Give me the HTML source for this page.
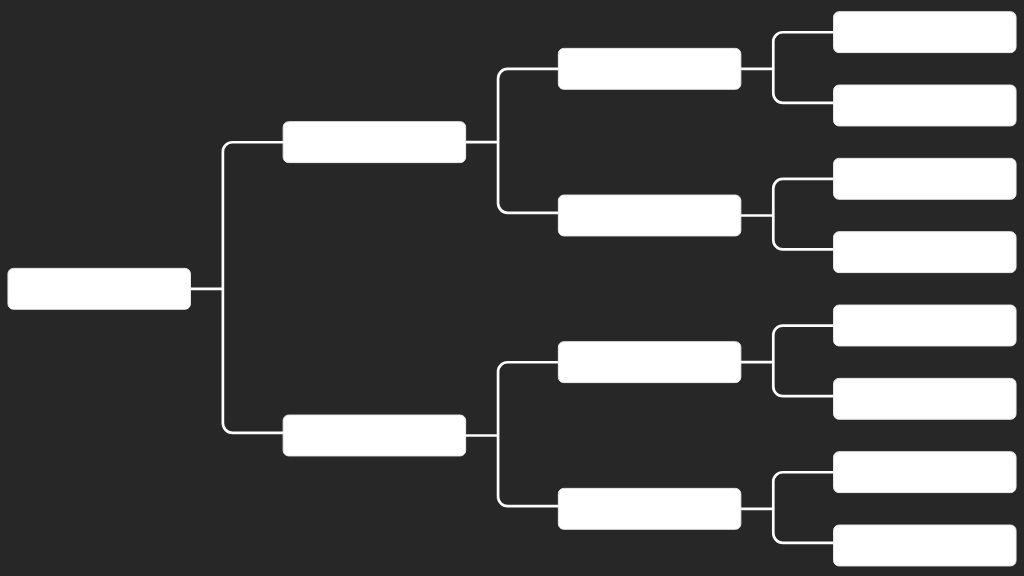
<!DOCTYPE html>
<html lang="en">
<head>
<meta charset="utf-8">
<title>Bracket</title>
<style>
html,body{margin:0;padding:0;background:#272727;width:1024px;height:576px;overflow:hidden}
svg{display:block}
.ln path{fill:none;stroke:#fdfdfd;stroke-width:2.7;stroke-linecap:butt;stroke-linejoin:round}
.bx rect{fill:#ffffff;stroke:#ececec;stroke-width:1}
</style>
</head>
<body>
<svg xmlns="http://www.w3.org/2000/svg" width="1024" height="576" viewBox="0 0 1024 576">
<rect width="1024" height="576" fill="#272727"/>
<g class="ln">
<path d="M188.93 288.82H222.88"/>
<path d="M284.67 142.25H232.38A9.5 9.5 0 0 0 222.88 151.75V423.28A9.5 9.5 0 0 0 232.38 432.78H284.67"/>
<path d="M464.13 142.15H498.08"/>
<path d="M559.87 68.92H507.58A9.5 9.5 0 0 0 498.08 78.42V203.28A9.5 9.5 0 0 0 507.58 212.78H559.87"/>
<path d="M464.13 435.48H498.08"/>
<path d="M559.87 362.25H507.58A9.5 9.5 0 0 0 498.08 371.75V496.62A9.5 9.5 0 0 0 507.58 506.12H559.87"/>
<path d="M739.33 68.82H773.28"/>
<path d="M835.07 32.25H782.78A9.5 9.5 0 0 0 773.28 41.75V93.28A9.5 9.5 0 0 0 782.78 102.78H835.07"/>
<path d="M739.33 215.48H773.28"/>
<path d="M835.07 178.92H782.78A9.5 9.5 0 0 0 773.28 188.42V239.95A9.5 9.5 0 0 0 782.78 249.45H835.07"/>
<path d="M739.33 362.15H773.28"/>
<path d="M835.07 325.58H782.78A9.5 9.5 0 0 0 773.28 335.08V386.62A9.5 9.5 0 0 0 782.78 396.12H835.07"/>
<path d="M739.33 508.82H773.28"/>
<path d="M835.07 472.25H782.78A9.5 9.5 0 0 0 773.28 481.75V533.28A9.5 9.5 0 0 0 782.78 542.78H835.07"/>
</g>
<g class="bx">
<rect x="7.97" y="268.38" width="182.47" height="40.87" rx="5.4" ry="5.4"/>
<rect x="283.17" y="121.72" width="182.47" height="40.87" rx="5.4" ry="5.4"/>
<rect x="283.17" y="415.05" width="182.47" height="40.87" rx="5.4" ry="5.4"/>
<rect x="558.37" y="48.38" width="182.47" height="40.87" rx="5.4" ry="5.4"/>
<rect x="558.37" y="195.05" width="182.47" height="40.87" rx="5.4" ry="5.4"/>
<rect x="558.37" y="341.72" width="182.47" height="40.87" rx="5.4" ry="5.4"/>
<rect x="558.37" y="488.38" width="182.47" height="40.87" rx="5.4" ry="5.4"/>
<rect x="833.57" y="11.72" width="182.47" height="40.87" rx="5.4" ry="5.4"/>
<rect x="833.57" y="85.05" width="182.47" height="40.87" rx="5.4" ry="5.4"/>
<rect x="833.57" y="158.38" width="182.47" height="40.87" rx="5.4" ry="5.4"/>
<rect x="833.57" y="231.72" width="182.47" height="40.87" rx="5.4" ry="5.4"/>
<rect x="833.57" y="305.05" width="182.47" height="40.87" rx="5.4" ry="5.4"/>
<rect x="833.57" y="378.38" width="182.47" height="40.87" rx="5.4" ry="5.4"/>
<rect x="833.57" y="451.72" width="182.47" height="40.87" rx="5.4" ry="5.4"/>
<rect x="833.57" y="525.05" width="182.47" height="40.87" rx="5.4" ry="5.4"/>
</g>
</svg>
</body>
</html>
